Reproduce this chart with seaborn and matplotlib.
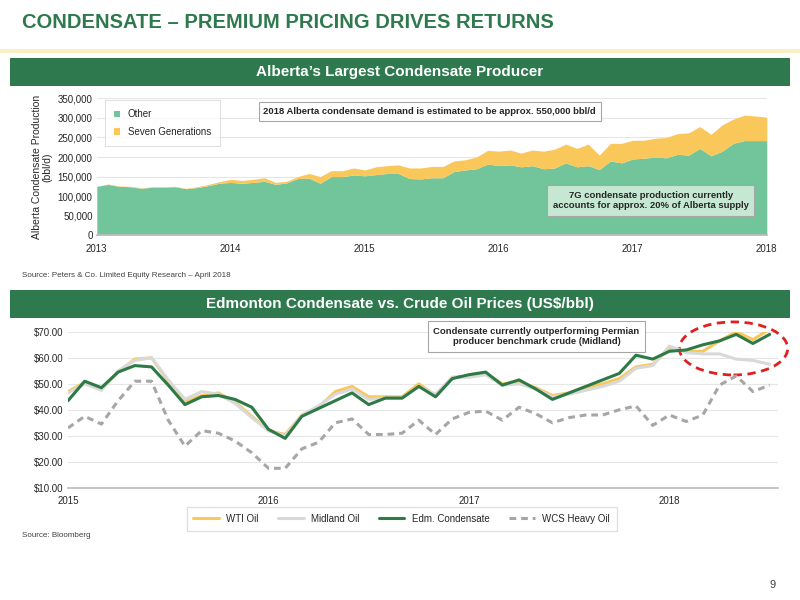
import numpy as np
import pandas as pd
import matplotlib
matplotlib.use("Agg")
import matplotlib.pyplot as plt
import seaborn as sns
from matplotlib.patches import Ellipse, Rectangle
from matplotlib.ticker import FuncFormatter

sns.set_theme(style="white")
plt.rcParams['font.family'] = ['Liberation Sans', 'DejaVu Sans']

# ---- top chart data (monthly, Jan 2013 - Jan 2018), bbl/d thousands
other_k = [125,130,125,124,120,123,123,124,119,122,127,133,
           135,133,135,138,130,134,145,146,133,150,150,154,
           152,155,158,158,145,144,147,147,163,167,170,182,
           178,180,175,178,170,172,185,175,178,168,190,185,
           195,197,200,198,207,205,222,203,215,235,242,242,
           242]
total_k = [125,131,126,125,121,124,124,125,120,124,130,137,
           143,140,143,147,135,138,150,158,150,165,165,172,
           167,175,178,180,172,172,176,176,190,193,200,217,
           215,218,210,218,215,220,233,222,233,205,235,235,
           243,243,248,250,260,262,278,258,282,297,307,305,
           302]
top_years = ["2013", "2014", "2015", "2016", "2017", "2018"]

# ---- bottom chart data (monthly, Jan 2015 - Jul 2018), US$/bbl
wti = [47,50.5,48,54.5,59.5,60,51,43,45.5,46.5,43,37.5,
       32,30.5,38,41,47,49,45,45,45,50,45.5,52.5,
       53,54,50,50.5,48.5,45.5,46.5,48.5,50,52,56.5,57.5,
       63.5,62.5,62.5,66.5,70,67,71]
midland = [46.5,50,47.5,55,59,60,51.5,44,47,46,42.5,37,
           32,30,38,41.5,46,48,44,44.5,44.5,49,46,52.5,
           52.5,53.5,49.5,50,48,45,46,47.5,49,51,56,57,
           64.5,62,61.5,61.5,59.5,59,57.5]
edm = [43.5,51,48.5,54.5,57,56.5,49.5,42,45,45.5,44,41,
       32.5,29,37.5,40.5,43.5,46.5,42,44.5,44.5,49,45,52,
       53.5,54.5,49.5,51.5,48,44,46.5,49,51.5,54,61,59.5,
       62.5,63,65,66.5,69,65.5,69]
wcs = [33,37.5,34.5,43.5,51,51,36,26,32,31,28,23.5,
       17.5,17.5,25,27.5,35,36.5,30.5,30.5,31,36,30.5,36.5,
       39,39.5,36,41,38.5,35,37,38,38,40,41.5,34,
       38,35.5,38,49.5,53,47,49.5]
bot_years = ["2015", "2016", "2017", "2018"]

GREEN = "#2E7A4E"
AREA_G = "#72C49A"
YEL = "#F9C75A"

fig = plt.figure(figsize=(8, 6), dpi=100)
fig.patch.set_facecolor("white")

fig.text(0.028, 0.962, "CONDENSATE – PREMIUM PRICING DRIVES RETURNS", fontsize=14.5,
         fontweight="bold", color=GREEN, va="center", family=["Liberation Sans"])
fig.add_artist(Rectangle((0, 0.912), 1, 0.006, transform=fig.transFigure, color="#FBEFC4", lw=0))

for yb, txt in [(0.857, "Alberta’s Largest Condensate Producer"),
                (0.470, "Edmonton Condensate vs. Crude Oil Prices (US$/bbl)")]:
    fig.add_artist(Rectangle((0.013, yb), 0.974, 0.046, transform=fig.transFigure,
                             color=GREEN, lw=0))
    fig.text(0.5, yb + 0.023, txt, fontsize=11, fontweight="bold", color="white",
             ha="center", va="center")

# ---- top chart
ax1 = fig.add_axes([0.121, 0.608, 0.8375, 0.228])
xt = 2013 + np.arange(len(other_k)) / 12
other = np.array(other_k) * 1000
sevg = (np.array(total_k) - np.array(other_k)) * 1000
ax1.stackplot(xt, other, sevg, colors=[AREA_G, YEL], labels=["Other", "Seven Generations"], lw=0)
ax1.set_xlim(2013, 2018)
ax1.set_ylim(0, 350000)
ax1.set_yticks(range(0, 350001, 50000))
ax1.yaxis.set_major_formatter(FuncFormatter(lambda v, p: f"{int(v):,}"))
ax1.set_xticks(range(2013, 2019))
ax1.set_xticklabels(top_years)
ax1.tick_params(labelsize=7, length=0, pad=3)
ax1.tick_params(axis="x", pad=6)
ax1.grid(axis="y", color="#E6E6E6", lw=0.8)
ax1.set_axisbelow(True)
for s in ["top", "right", "left"]:
    ax1.spines[s].set_visible(False)
ax1.spines["bottom"].set_color("#BFBFBF")
ax1.set_ylabel("Alberta Condensate Production\n(bbl/d)", fontsize=7.5, labelpad=4, linespacing=1.0)
leg1 = ax1.legend(loc="upper left", fontsize=7, frameon=True, handlelength=0.6, handleheight=0.6,
                  borderpad=0.6, labelspacing=0.8, bbox_to_anchor=(0.01, 1.0))
leg1.get_frame().set_edgecolor("#D9D9D9")
leg1.get_frame().set_linewidth(0.8)
leg1.get_frame().set_boxstyle("square")
ax1.text(0.497, 0.905, "2018 Alberta condensate demand is estimated to be approx. 550,000 bbl/d",
         transform=ax1.transAxes, ha="center", va="center", fontsize=6.8, fontweight="bold",
         bbox=dict(boxstyle="square,pad=0.5", fc="white", ec="#A6A6A6", lw=0.8))
ax1.text(0.827, 0.255, "7G condensate production currently\naccounts for approx. 20% of Alberta supply",
         transform=ax1.transAxes, ha="center", va="center", fontsize=6.8, fontweight="bold",
         bbox=dict(boxstyle="square,pad=0.6", fc="#C6E8D2", ec="#A6A6A6", lw=0.8))
fig.text(0.027, 0.541, "Source: Peters & Co. Limited Equity Research – April 2018", fontsize=5.8,
         color="#404040", va="center")

# ---- bottom chart
ax2 = fig.add_axes([0.085, 0.187, 0.8875, 0.26])
xb = 2015 + np.arange(len(edm)) / 12
df = pd.DataFrame({"x": np.tile(xb, 4),
                   "price": wti + midland + edm + wcs,
                   "series": np.repeat(["WTI Oil", "Midland Oil", "Edm. Condensate", "WCS Heavy Oil"], len(edm))})
pal = {"WTI Oil": YEL, "Midland Oil": "#D9D9D9", "Edm. Condensate": "#2E7A46", "WCS Heavy Oil": "#A6A6A6"}
sns.lineplot(data=df, x="x", y="price", hue="series", style="series", palette=pal,
             dashes={"WTI Oil": "", "Midland Oil": "", "Edm. Condensate": "", "WCS Heavy Oil": (2.2, 1.6)},
             ax=ax2, lw=2.2, legend=True)
ax2.set_xlim(2015, 2018 + 6.5 / 12)
ax2.set_ylim(10, 70)
ax2.set_yticks(range(10, 71, 10))
ax2.yaxis.set_major_formatter(FuncFormatter(lambda v, p: f"${v:.2f}"))
ax2.set_xticks(range(2015, 2019))
ax2.set_xticklabels(bot_years)
ax2.tick_params(labelsize=7, length=0, pad=3)
ax2.tick_params(axis="x", pad=6)
ax2.set_xlabel("")
ax2.set_ylabel("")
ax2.grid(axis="y", color="#E6E6E6", lw=0.8)
ax2.set_axisbelow(True)
for s in ["top", "right", "left"]:
    ax2.spines[s].set_visible(False)
ax2.spines["bottom"].set_color("#BFBFBF")
h, l = ax2.get_legend_handles_labels()
leg2 = ax2.legend(h, l, loc="upper center", bbox_to_anchor=(0.47, -0.11), ncol=4, fontsize=7,
                  frameon=True, handlelength=2.6, columnspacing=2.0, borderpad=0.4)
leg2.get_frame().set_edgecolor("#D9D9D9")
leg2.get_frame().set_boxstyle("square")
ax2.text(0.66, 0.97, "Condensate currently outperforming Permian\nproducer benchmark crude (Midland)",
         transform=ax2.transAxes, ha="center", va="center", fontsize=6.8, fontweight="bold",
         bbox=dict(boxstyle="square,pad=0.6", fc="white", ec="#A6A6A6", lw=0.8))
ax2.add_patch(Ellipse((2018.32, 63.6), 0.54, 20.4, fill=False, ec="#E02020", lw=2.0,
                      ls=(0, (3, 2)), clip_on=False))
fig.text(0.027, 0.108, "Source: Bloomberg", fontsize=5.8, color="#404040", va="center")
fig.text(0.966, 0.025, "9", fontsize=8, color="#404040", ha="center", va="center")

fig.savefig("out.png", dpi=100)
